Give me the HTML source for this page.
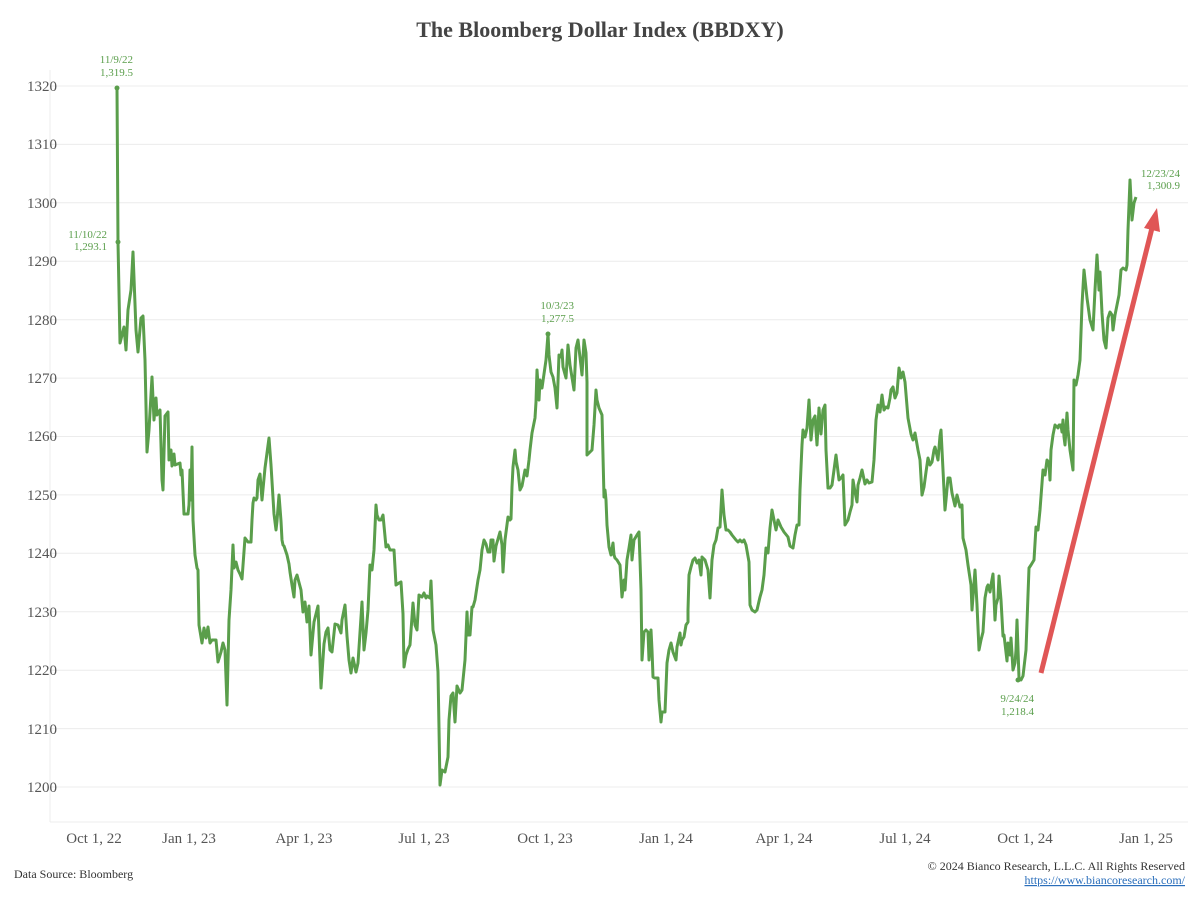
<!DOCTYPE html>
<html><head><meta charset="utf-8"><style>
body{margin:0;background:#fff;}
svg text{font-family:"Liberation Serif",serif;}
</style></head><body>
<svg width="1200" height="900" viewBox="0 0 1200 900" xmlns="http://www.w3.org/2000/svg">
<text x="600" y="37" text-anchor="middle" font-size="22" font-weight="bold" fill="#444">The Bloomberg Dollar Index (BBDXY)</text>
<g stroke="#ececec" stroke-width="1">
<line x1="50" y1="86" x2="1188" y2="86"/><line x1="50" y1="144.4" x2="1188" y2="144.4"/><line x1="50" y1="202.8" x2="1188" y2="202.8"/><line x1="50" y1="261.3" x2="1188" y2="261.3"/><line x1="50" y1="319.7" x2="1188" y2="319.7"/><line x1="50" y1="378.1" x2="1188" y2="378.1"/><line x1="50" y1="436.5" x2="1188" y2="436.5"/><line x1="50" y1="494.9" x2="1188" y2="494.9"/><line x1="50" y1="553.3" x2="1188" y2="553.3"/><line x1="50" y1="611.8" x2="1188" y2="611.8"/><line x1="50" y1="670.2" x2="1188" y2="670.2"/><line x1="50" y1="728.6" x2="1188" y2="728.6"/><line x1="50" y1="787" x2="1188" y2="787"/>
<line x1="50" y1="70" x2="50" y2="822"/><line x1="50" y1="822" x2="1188" y2="822"/>
</g>
<g font-size="15" fill="#555" text-anchor="end">
<text x="57" y="91">1320</text><text x="57" y="149">1310</text><text x="57" y="208">1300</text><text x="57" y="266">1290</text><text x="57" y="325">1280</text><text x="57" y="383">1270</text><text x="57" y="441">1260</text><text x="57" y="500">1250</text><text x="57" y="558">1240</text><text x="57" y="617">1230</text><text x="57" y="675">1220</text><text x="57" y="734">1210</text><text x="57" y="792">1200</text>
</g>
<g font-size="15" fill="#555" text-anchor="middle">
<text x="94" y="843">Oct 1, 22</text><text x="189" y="843">Jan 1, 23</text><text x="304" y="843">Apr 1, 23</text><text x="424" y="843">Jul 1, 23</text><text x="545" y="843">Oct 1, 23</text><text x="666" y="843">Jan 1, 24</text><text x="784" y="843">Apr 1, 24</text><text x="905" y="843">Jul 1, 24</text><text x="1025" y="843">Oct 1, 24</text><text x="1146" y="843">Jan 1, 25</text>
</g>
<polyline fill="none" stroke="#5a9e4b" stroke-width="3" stroke-linejoin="round" points="117,88 118,242 120,343 122,335 124,327 126,350 128,310 131,290 133,252 136,330 138,352 141,318 143,316 145,360 147,452 149,430 152,377 154,420 156,398 157,415 160,410 162,480 163,490 165,416 168,412 169,460 171,450 172,466 174,454 175,465 180,463 181,475 182,470 184,514 188,514 189,505 190,470 191,500 192,447 193,520 195,555 197,568 198,570 199,625 202,643 204,628 206,638 208,627 210,643 212,640 216,640 218,662 221,652 223,643 225,650 227,705 229,620 231,590 233,545 234,568 236,562 238,570 240,574 242,579 245,538 248,542 251,542 252,520 253,503 254,498 256,500 257,498 258,480 260,474 262,500 265,468 269,438 271,465 274,514 276,530 277,521 279,495 281,521 282,540 283,545 284,546 287,555 289,564 290,572 292,585 294,597 295,580 297,575 301,590 303,612 305,602 307,622 309,606 311,655 314,622 318,606 321,688 324,644 326,632 328,628 330,650 332,652 335,624 338,625 341,633 342,620 345,605 347,636 349,660 351,673 353,658 356,672 358,663 362,602 364,650 366,633 368,610 370,565 372,570 374,550 376,505 377,515 379,520 381,520 383,515 386,547 388,545 390,550 394,550 396,585 399,583 401,582 403,614 404,667 406,655 408,649 410,645 413,603 415,625 417,630 419,595 422,597 424,593 426,598 427,596 430,598 431,581 433,630 436,645 438,672 440,785 442,770 445,772 448,757 449,720 451,696 453,693 455,722 457,686 460,693 462,690 465,660 467,612 468,635 470,635 472,607 473,607 475,600 478,580 480,570 482,550 484,540 486,544 488,552 490,552 491,540 493,540 494,561 496,546 500,532 502,545 503,572 505,540 508,517 510,520 511,519 512,487 513,467 515,450 516,462 518,470 520,490 522,486 525,470 527,476 529,460 530,450 532,433 535,418 536,402 537,370 539,400 540,380 542,388 546,360 548,334 549,355 551,372 553,377 555,388 557,408 559,355 561,357 562,350 563,367 566,378 568,345 570,365 574,390 576,348 578,340 581,366 582,375 584,340 586,353 587,382 587,455 589,453 592,450 594,425 596,390 597,400 599,408 602,415 604,497 605,490 606,500 607,525 609,547 611,555 613,543 614,555 615,558 617,560 620,565 622,597 624,580 625,590 627,560 629,548 631,535 632,560 634,540 637,535 639,532 640,560 641,590 642,660 644,632 646,630 648,632 649,660 651,630 652,650 653,677 655,678 658,678 659,700 661,722 662,712 665,712 667,663 669,650 671,643 673,652 676,660 677,647 680,633 681,645 682,640 684,637 686,625 688,622 688,610 689,575 691,567 693,560 695,558 697,563 699,560 701,575 702,557 705,560 708,570 710,598 712,560 714,545 716,540 718,528 720,527 722,490 724,515 726,530 728,530 730,532 732,535 736,540 738,542 740,540 742,542 744,540 746,545 749,562 750,605 752,610 755,612 757,610 760,597 762,590 764,575 766,548 768,553 770,528 772,510 776,530 778,520 781,527 784,532 788,537 790,546 793,548 795,535 797,525 799,525 800,490 802,445 803,430 805,437 807,428 809,400 811,440 813,420 815,416 817,445 819,408 821,434 823,410 825,405 826,450 828,488 830,488 832,485 834,470 836,455 839,480 841,478 843,475 845,525 848,520 850,512 852,505 853,480 855,492 857,502 858,485 860,478 862,470 865,484 867,480 869,483 872,482 874,460 876,420 878,405 880,412 882,395 884,410 886,407 888,408 890,398 891,390 893,387 895,398 897,393 899,368 901,378 903,372 905,382 908,418 911,434 913,440 915,433 918,450 920,460 922,495 924,487 926,472 928,458 930,465 932,462 934,450 935,447 938,460 940,436 941,430 943,470 945,510 946,500 948,478 950,478 952,493 955,506 957,495 960,507 962,505 963,538 966,550 968,565 971,585 972,610 975,570 977,605 979,650 981,640 983,632 985,598 987,587 988,585 990,592 991,585 993,574 995,620 996,605 998,598 999,576 1001,600 1003,636 1004,635 1007,661 1008,643 1009,648 1010,655 1011,638 1013,670 1015,663 1016,650 1017,620 1019,678 1021,680 1023,676 1026,650 1028,595 1029,568 1031,565 1034,560 1036,527 1038,530 1040,510 1043,470 1045,475 1047,460 1049,463 1050,480 1051,450 1053,435 1055,425 1058,428 1059,425 1061,425 1062,432 1063,420 1064,437 1065,445 1067,413 1068,430 1070,450 1073,470 1074,380 1076,385 1078,375 1080,360 1082,305 1084,270 1087,298 1090,320 1093,330 1095,290 1097,255 1099,290 1100,272 1102,313 1104,340 1106,348 1108,318 1110,312 1112,315 1113,330 1115,315 1117,305 1119,295 1121,270 1123,268 1126,270 1127,265 1128,230 1130,180 1132,220 1134,203 1136,197"/>
<g fill="#5a9e4b"><circle cx="117" cy="88" r="2.5"/><circle cx="118" cy="242" r="2.5"/><circle cx="548" cy="334" r="2.5"/><circle cx="1018" cy="680" r="2.5"/></g>
<g font-size="11" fill="#5a9e4b" text-anchor="end">
<text x="133" y="63">11/9/22</text><text x="133" y="76">1,319.5</text>
<text x="107" y="238">11/10/22</text><text x="107" y="250">1,293.1</text>
<text x="574" y="309">10/3/23</text><text x="574" y="322">1,277.5</text>
<text x="1034" y="702">9/24/24</text><text x="1034" y="715">1,218.4</text>
<text x="1180" y="177">12/23/24</text><text x="1180" y="189">1,300.9</text>
</g>
<line x1="1041" y1="673" x2="1152" y2="228" stroke="#e05656" stroke-width="5"/>
<polygon points="1157,208 1144,228 1160,232" fill="#e05656"/>
<text x="14" y="878" font-size="12" fill="#333">Data Source: Bloomberg</text>
<text x="1185" y="870" font-size="12" fill="#333" text-anchor="end">© 2024 Bianco Research, L.L.C. All Rights Reserved</text>
<text x="1185" y="884" font-size="12" fill="#2a6ebb" text-anchor="end" text-decoration="underline">https://www.biancoresearch.com/</text>
</svg>
</body></html>
